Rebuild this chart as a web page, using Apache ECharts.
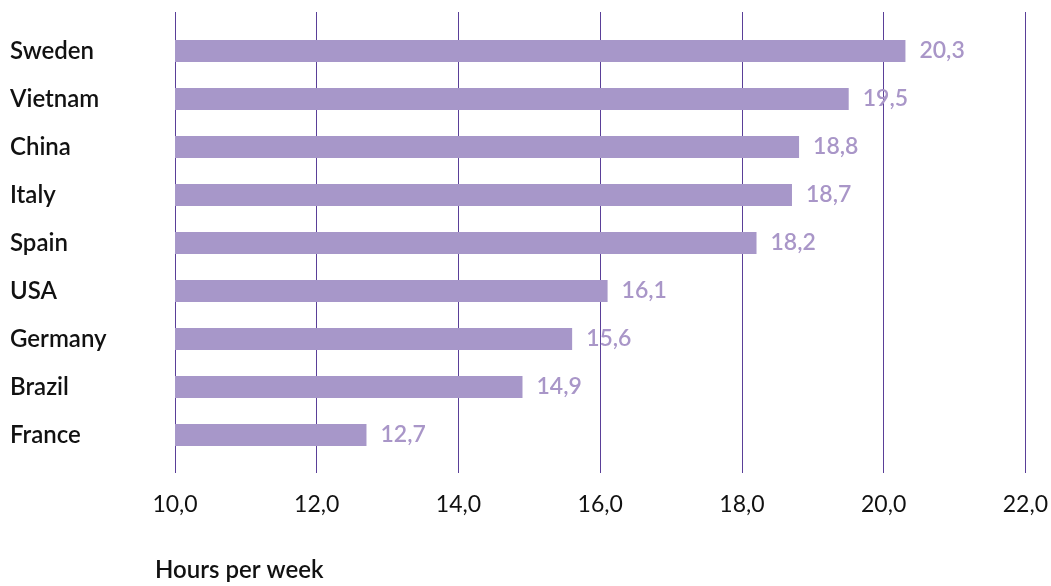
<!DOCTYPE html>
<html>
<head>
<meta charset="utf-8">
<script src="https://cdn.jsdelivr.net/npm/echarts@6/dist/echarts.min.js"></script>
<style>
  html, body { margin: 0; padding: 0; background: #ffffff; }
  #chart { width: 1051px; height: 586px; }
</style>
</head>
<body>
<div id="chart"></div>
<script>
// Weekly hours, by country
const countries = ['Sweden', 'Vietnam', 'China', 'Italy', 'Spain', 'USA', 'Germany', 'Brazil', 'France'];
const hours = [20.3, 19.5, 18.8, 18.7, 18.2, 16.1, 15.6, 14.9, 12.7];
const axisMin = 10;
const axisMax = 22;
const axisStep = 2;
const axisTitle = 'Hours per week';

const FONT = 'Lato, "Noto Sans", sans-serif';
const comma = v => v.toFixed(1).replace('.', ',');

const chart = echarts.init(document.getElementById('chart'));
chart.setOption({
  animation: false,
  backgroundColor: '#ffffff',
  title: {
    text: axisTitle,
    left: 150,
    top: 553,
    textStyle: { fontFamily: FONT, fontSize: 24, fontWeight: 600, color: '#111111' }
  },
  grid: [
    // bars
    { left: 175, right: 25, top: 27, bottom: 127 },
    // taller frame carrying the vertical gridlines and tick labels
    { left: 175, right: 25, top: 12, bottom: 113 }
  ],
  xAxis: [
    {
      type: 'value', gridIndex: 0, min: axisMin, max: axisMax, interval: axisStep,
      axisLine: { show: false }, axisTick: { show: false },
      axisLabel: { show: false }, splitLine: { show: false }
    },
    {
      type: 'value', gridIndex: 1, min: axisMin, max: axisMax, interval: axisStep,
      axisLine: { show: false }, axisTick: { show: false },
      axisLabel: {
        margin: 20, fontFamily: FONT, fontSize: 23, color: '#111111',
        formatter: v => comma(v)
      },
      splitLine: { show: true, lineStyle: { color: '#5a3f98', width: 1 } }
    }
  ],
  yAxis: [
    {
      type: 'category', gridIndex: 0, data: countries, inverse: true,
      axisLine: { show: false }, axisTick: { show: false },
      axisLabel: {
        align: 'left', margin: 165, fontFamily: FONT, fontSize: 24,
        fontWeight: 600, color: '#111111'
      }
    },
    {
      type: 'category', gridIndex: 1, data: [], show: false
    }
  ],
  series: [{
    type: 'bar',
    xAxisIndex: 0,
    yAxisIndex: 0,
    data: hours,
    barWidth: 22,
    itemStyle: { color: '#a797c9' },
    label: {
      show: true, position: 'right', distance: 14,
      fontFamily: FONT, fontSize: 23, fontWeight: 600, color: '#a996c8',
      formatter: p => comma(p.value)
    }
  }]
});
</script>
</body>
</html>
